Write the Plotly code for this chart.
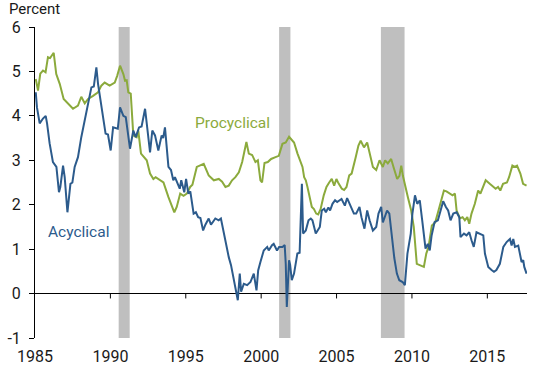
import plotly.graph_objects as go

# Acyclical series (decimal year, percent)
acyc_x = [1985.05, 1985.13, 1985.31, 1985.53, 1985.71, 1985.8, 1985.97, 1986.19, 1986.42, 1986.59, 1986.68,
          1986.86, 1986.97, 1987.15, 1987.35, 1987.48, 1987.63, 1987.85, 1988.07, 1988.3, 1988.52, 1988.74,
          1988.9, 1989.07, 1989.18, 1989.29, 1989.51, 1989.68, 1989.84, 1990.02, 1990.18, 1990.4,
          1990.49, 1990.64, 1990.86, 1991.02, 1991.15, 1991.3, 1991.52, 1991.68, 1991.9, 1992.07, 1992.3,
          1992.47, 1992.63, 1992.78, 1992.96, 1993.18, 1993.4, 1993.5, 1993.62, 1993.85, 1994.02, 1994.17,
          1994.28, 1994.6, 1994.7, 1994.9, 1995.02, 1995.17, 1995.3, 1995.52, 1995.67, 1995.82, 1995.97,
          1996.15, 1996.3, 1996.52, 1996.67, 1996.96, 1997.18, 1997.33, 1997.52, 1997.85, 1998.0, 1998.22,
          1998.45, 1998.58, 1998.67, 1998.85, 1999.07, 1999.29, 1999.51, 1999.69, 1999.8, 1999.95, 2000.17,
          2000.4, 2000.5, 2000.72, 2000.83, 2001.05, 2001.19, 2001.41, 2001.56, 2001.63, 2001.7, 2001.85,
          2001.92, 2002.03, 2002.18, 2002.4, 2002.55, 2002.7, 2002.78, 2002.96, 2003.14, 2003.29, 2003.4,
          2003.62, 2003.73, 2003.89, 2004.02, 2004.18, 2004.29, 2004.46, 2004.57, 2004.73, 2004.9, 2005.04,
          2005.33, 2005.55, 2005.7, 2005.86, 2006.15, 2006.3, 2006.52, 2006.65, 2006.85, 2007.03, 2007.19,
          2007.41, 2007.63, 2007.78, 2007.96, 2008.07, 2008.35, 2008.5, 2008.72, 2008.83, 2009.0, 2009.16,
          2009.38, 2009.53, 2009.7, 2009.92, 2010.03, 2010.2, 2010.35, 2010.52, 2010.68, 2010.9, 2011.05,
          2011.18, 2011.3, 2011.5, 2011.72, 2011.9, 2012.07, 2012.25, 2012.4, 2012.56, 2012.74, 2012.96,
          2013.14, 2013.22, 2013.45, 2013.62, 2013.8, 2013.95, 2014.1, 2014.28, 2014.5, 2014.73, 2014.84,
          2015.06, 2015.28, 2015.44, 2015.6, 2015.83, 2016.06, 2016.28, 2016.5, 2016.61, 2016.72, 2016.83,
          2017.05, 2017.27, 2017.38, 2017.45, 2017.6]
acyc_y = [4.53, 4.19, 3.83, 3.94, 4.0, 3.83, 3.38, 2.96, 2.85, 2.28, 2.4,
          2.88, 2.62, 1.83, 2.47, 2.5, 2.85, 3.07, 3.52, 3.89, 4.31, 4.64,
          4.66, 5.09, 4.72, 4.49, 3.97, 3.6, 3.58, 3.22, 3.74, 3.73,
          3.71, 4.19, 4.0, 3.97, 3.67, 3.26, 3.67, 3.52, 3.74, 3.76, 4.16,
          3.67, 3.18, 3.67, 3.56, 3.22, 3.56, 3.5, 3.74, 2.85, 2.78, 2.55,
          2.62, 2.36, 2.55, 2.28, 2.58, 2.25, 2.3, 1.8, 1.83, 1.72, 1.7,
          1.42, 1.55, 1.69, 1.55, 1.69, 1.65, 1.69, 1.35, 0.82, 0.64, 0.22,
          -0.15, 0.45, 0.04, 0.22, 0.19, 0.26, 0.45, 0.07, 0.52, 0.71, 0.97,
          1.05, 0.97, 1.09, 1.12, 0.97, 1.05, 1.05, 1.09, 0.67, -0.3, 0.75,
          0.65, 0.3, 0.45, 0.9, 0.92, 2.47, 1.35, 1.42, 1.65, 1.69, 1.65,
          1.35, 1.42, 1.5, 1.87, 1.91, 1.83, 1.94, 1.87, 2.02, 2.1, 2.06,
          2.13, 1.98, 2.15, 2.02, 1.8, 1.8, 1.95, 1.72, 1.46, 1.87, 1.65,
          1.42, 1.5, 1.8, 1.95, 1.6, 1.87, 1.8, 1.12, 0.8, 0.45, 0.3,
          0.26, 0.19, 0.9, 1.35, 1.8, 2.21, 2.02, 2.1, 1.65, 1.01, 1.12,
          0.97, 1.3, 1.61, 1.65, 1.87, 2.08, 1.95, 1.87, 1.65, 1.8, 1.83,
          1.72, 1.27, 1.35, 1.31, 1.38, 1.2, 1.05, 1.38, 1.35, 1.31, 0.9,
          0.6, 0.53, 0.49, 0.53, 0.67, 1.05, 1.16, 1.23, 1.08, 1.23, 1.05,
          1.08, 0.71, 0.75, 0.6, 0.45]

# Procyclical series (decimal year, percent)
pro_x = [1985.05, 1985.2, 1985.35, 1985.53, 1985.7, 1985.86, 1986.0, 1986.24, 1986.41, 1986.64, 1986.9,
         1987.19, 1987.52, 1987.85, 1988.07, 1988.3, 1988.52, 1988.85, 1989.18, 1989.4, 1989.62, 1989.95,
         1990.29, 1990.45, 1990.64, 1990.86, 1990.97, 1991.08, 1991.19, 1991.35, 1991.41, 1991.52, 1991.74,
         1991.85, 1992.03, 1992.25, 1992.41, 1992.63, 1992.85, 1993.0, 1993.3, 1993.52, 1993.85, 1994.07,
         1994.24, 1994.4, 1994.63, 1994.85, 1995.07, 1995.29, 1995.44, 1995.73, 1996.19, 1996.52, 1996.86,
         1997.19, 1997.41, 1997.63, 1997.85, 1998.07, 1998.29, 1998.52, 1998.74, 1999.02, 1999.18, 1999.4,
         1999.62, 1999.78, 1999.95, 2000.06, 2000.22, 2000.44, 2000.66, 2000.95, 2001.17, 2001.41, 2001.63,
         2001.85, 2002.07, 2002.18, 2002.41, 2002.56, 2002.74, 2002.85, 2002.96, 2003.07, 2003.22, 2003.36,
         2003.5, 2003.65, 2003.78, 2003.94, 2004.15, 2004.33, 2004.51, 2004.68, 2004.84, 2004.99, 2005.1,
         2005.35, 2005.5, 2005.66, 2005.84, 2006.0, 2006.27, 2006.45, 2006.6, 2006.82, 2007.03, 2007.19,
         2007.41, 2007.63, 2007.85, 2008.07, 2008.22, 2008.4, 2008.62, 2008.8, 2009.02, 2009.17, 2009.29,
         2009.4, 2009.57, 2009.73, 2009.95, 2010.12, 2010.32, 2010.5, 2010.79, 2010.95, 2011.1, 2011.32,
         2011.54, 2011.76, 2011.94, 2012.12, 2012.29, 2012.47, 2012.69, 2012.85, 2012.96, 2013.18, 2013.36,
         2013.51, 2013.67, 2013.8, 2013.95, 2014.17, 2014.39, 2014.54, 2014.72, 2014.89, 2015.16, 2015.38,
         2015.55, 2015.71, 2015.86, 2016.04, 2016.3, 2016.44, 2016.66, 2016.81, 2016.97, 2017.19, 2017.37,
         2017.6]
pro_y = [4.83, 4.57, 4.95, 5.02, 4.98, 5.32, 5.3, 5.42, 4.94, 4.72, 4.38,
         4.28, 4.16, 4.23, 4.43, 4.28, 4.38, 4.45, 4.53, 4.68, 4.75, 4.68,
         4.75, 4.9, 5.13, 4.94, 4.79, 4.8, 4.53, 4.5, 4.04, 3.56, 3.52,
         3.67, 3.15, 3.07, 3.0, 2.7, 2.58, 2.62, 2.55, 2.5, 2.17, 1.95,
         1.83, 1.95, 2.25, 2.2, 2.25, 2.4, 2.45, 2.85, 2.92, 2.66, 2.55,
         2.58, 2.52, 2.4, 2.43, 2.55, 2.62, 2.73, 2.96, 3.41, 3.15, 3.12,
         2.96, 3.0, 2.55, 2.5, 2.94, 2.96, 3.03, 3.07, 3.1, 3.37, 3.4,
         3.53, 3.44, 3.4, 3.15, 3.0, 2.85, 2.62, 2.55, 2.4, 2.17, 1.95,
         1.9, 1.8, 1.78, 1.9, 2.21, 2.4, 2.5, 2.58, 2.43, 2.58, 2.5,
         2.36, 2.33, 2.4, 2.66, 2.7, 3.07, 3.33, 3.44, 3.29, 3.4, 3.15,
         2.85, 2.78, 3.0, 2.85, 3.0, 2.93, 3.03, 2.82, 2.58, 2.65, 2.88,
         2.65, 2.43, 2.17, 1.87, 1.5, 0.67, 0.65, 0.6, 0.9, 1.05, 1.53,
         1.6, 1.87, 2.13, 2.32, 2.3, 2.25, 2.21, 2.25, 1.87, 1.69, 1.72,
         1.65, 1.72, 1.57, 1.8, 2.02, 2.32, 2.25, 2.43, 2.55, 2.47, 2.4,
         2.36, 2.4, 2.32, 2.47, 2.5, 2.62, 2.88, 2.85, 2.88, 2.7, 2.47,
         2.43]

# Recessions
rec_start = [1990.55, 2001.19, 2007.94]
rec_end = [1991.28, 2001.94, 2009.51]

x_ticks = [1985, 1990, 1995, 2000, 2005, 2010, 2015]
y_ticks = [-1, 0, 1, 2, 3, 4, 5, 6]

GREEN = "#8BAA3C"
BLUE = "#2C5B8C"
FONT = "Roboto"
TXT = "#1a1a1a"

fig = go.Figure()
fig.add_trace(go.Scatter(x=pro_x, y=pro_y, mode="lines", line=dict(color=GREEN, width=2),
                         name="Procyclical", showlegend=False, hoverinfo="skip"))
fig.add_trace(go.Scatter(x=acyc_x, y=acyc_y, mode="lines", line=dict(color=BLUE, width=2),
                         name="Acyclical", showlegend=False, hoverinfo="skip"))

shapes = []
for s, e in zip(rec_start, rec_end):
    shapes.append(dict(type="rect", xref="x", yref="y", x0=s, x1=e, y0=-1, y1=6,
                       fillcolor="#BFBFBF", line=dict(width=0), layer="below"))
for t in x_ticks[1:]:
    shapes.append(dict(type="line", xref="x", yref="y", x0=t, x1=t, y0=0, y1=-0.11,
                       line=dict(color="black", width=1)))

PW = 550 - 35 - 23

fig.update_layout(
    width=550, height=365,
    margin=dict(l=35, r=23, t=27, b=27, autoexpand=False),
    paper_bgcolor="white", plot_bgcolor="white",
    font=dict(family=FONT, size=16, color=TXT),
    shapes=shapes,
    xaxis=dict(range=[1985, 2017.63], tickvals=x_ticks, ticktext=[str(v) for v in x_ticks],
               showgrid=False, zeroline=False, showline=False, automargin=False,
               ticks="outside", ticklen=4, tickcolor="rgba(0,0,0,0)",
               tickfont=dict(family=FONT, size=16, color=TXT)),
    yaxis=dict(range=[-1, 6], tickvals=y_ticks, ticktext=[str(v) for v in y_ticks],
               showgrid=False, zeroline=True, zerolinecolor="black", zerolinewidth=1,
               showline=True, linecolor="black", linewidth=1, automargin=False,
               ticks="outside", ticklen=5, tickcolor="black",
               ticklabelstandoff=5,
               tickfont=dict(family=FONT, size=16, color=TXT)),
    annotations=[
        dict(text="Percent", xref="paper", yref="paper", x=-28 / PW, y=1.0, xanchor="left",
             yanchor="bottom", yshift=7, showarrow=False, font=dict(family=FONT, size=15, color=TXT)),
        dict(text="Procyclical", xref="x", yref="y", x=1995.5, y=3.84, xanchor="left", yanchor="middle",
             showarrow=False, font=dict(family=FONT, size=15.5, color=GREEN)),
        dict(text="Acyclical", xref="x", yref="y", x=1985.75, y=1.38, xanchor="left", yanchor="middle",
             showarrow=False, font=dict(family=FONT, size=15.5, color=BLUE)),
    ],
)

fig.write_html("out.html",
               config={"displayModeBar": False, "staticPlot": True},
               post_script="document.body.style.margin='0';document.body.style.padding='0';"
                           "document.body.style.overflow='hidden';")
